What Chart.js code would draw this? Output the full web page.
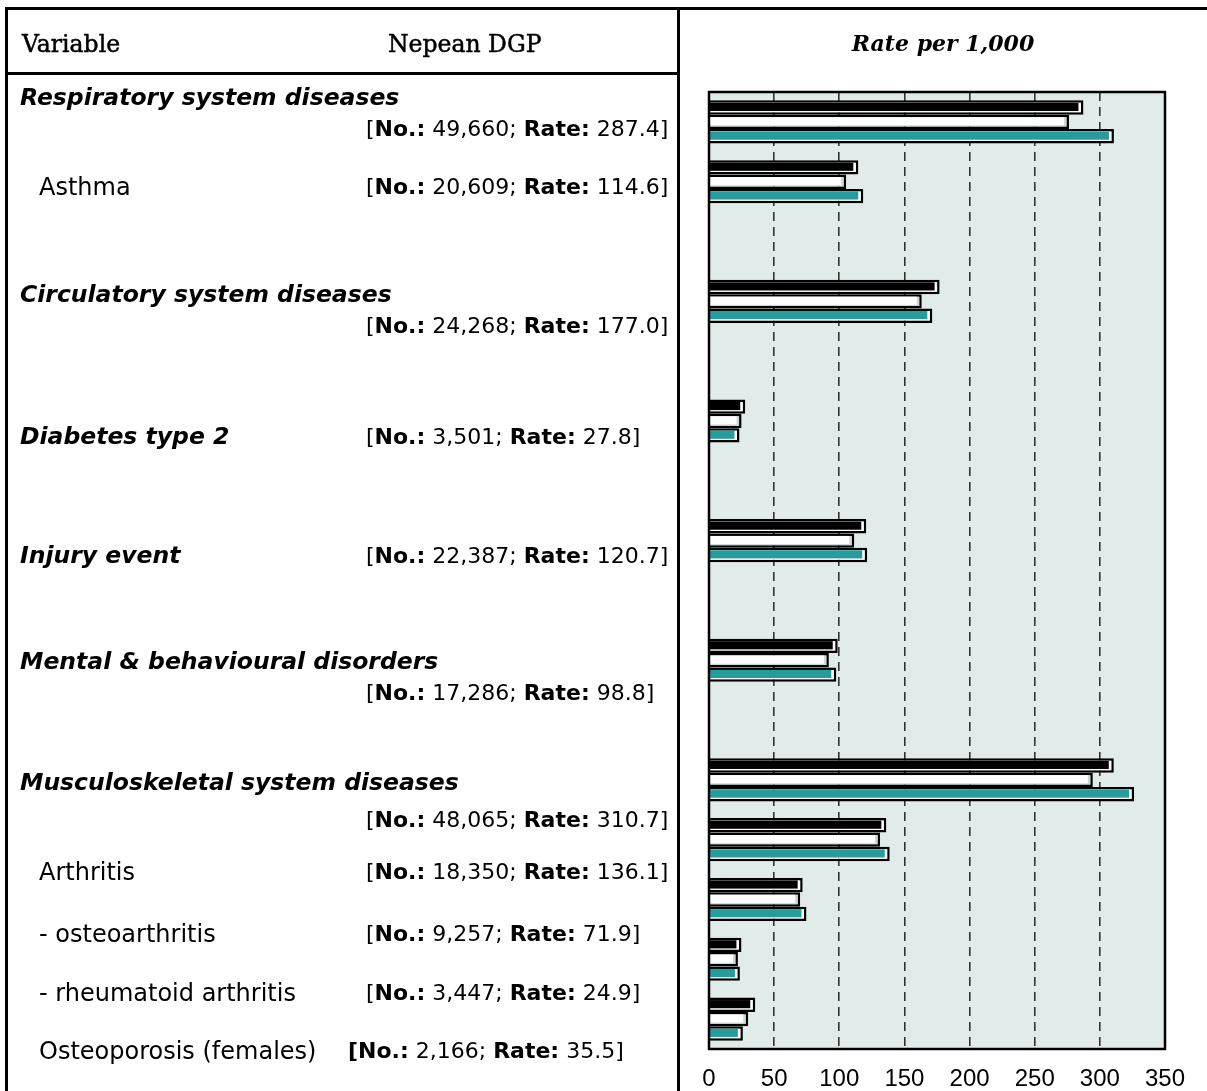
<!DOCTYPE html>
<html><head><meta charset="utf-8">
<script src="https://cdn.jsdelivr.net/npm/chart.js@4.4.1/dist/chart.umd.min.js"></script>
<style>
html,body{margin:0;padding:0;background:#fff;}
#wrap{position:relative;width:1207px;height:1091px;overflow:hidden;background:#fff;}
#c{position:absolute;left:0;top:0;}
.ln{position:absolute;background:#000;}
.t{position:absolute;white-space:nowrap;line-height:1;color:#000;}
.cat{font-family:'DejaVu Sans';font-style:italic;font-weight:bold;font-size:23.5px;}
.sub{font-family:'DejaVu Sans';font-size:24px;}
.br{font-family:'DejaVu Sans';font-size:22px;}
.hd{font-family:'DejaVu Serif';font-size:23.5px;-webkit-text-stroke:0.5px #000;}
.hdi{font-family:'DejaVu Serif';font-style:italic;font-weight:bold;font-size:22px;}
</style></head>
<body><div id="wrap"><canvas id="c" width="1207" height="1110"></canvas></div>
<script>
// ---- data ----
const categories = ['Respiratory system diseases','Asthma','','Circulatory system diseases','','Diabetes type 2','','Injury event','','Mental & behavioural disorders','','Musculoskeletal system diseases','Arthritis','- osteoarthritis','- rheumatoid arthritis','Osteoporosis (females)'];
const seriesNepean = [287.4,114.6,null,177.0,null,27.8,null,120.7,null,98.8,null,310.7,136.1,71.9,24.9,35.5];
const seriesWhite  = [276.3,105.3,null,163.3,null,25.0,null,111.5,null,92.0,null,294.6,131.3,70.0,22.2,30.1];
const seriesTeal   = [310.8,118.4,null,171.4,null,23.4,null,121.4,null,97.7,null,326.3,138.7,74.8,23.7,26.0];
const xTicks = [0,50,100,150,200,250,300,350];

const rowLabels = ['Respiratory system diseases','Asthma','Circulatory system diseases','Diabetes type 2','Injury event','Mental & behavioural disorders','Musculoskeletal system diseases','Arthritis','- osteoarthritis','- rheumatoid arthritis','Osteoporosis (females)'];
const rowNo = ['49,660','20,609','24,268','3,501','22,387','17,286','48,065','18,350','9,257','3,447','2,166'];
const rowRate = ['287.4','114.6','177.0','27.8','120.7','98.8','310.7','136.1','71.9','24.9','35.5'];
const rowIsGroup = [true,false,true,true,true,true,true,false,false,false,false];

// ---- layout (positions only) ----
const rowLabelY   = [98,187,295,437,556,662,783,872,934,993,1051];
const rowBracketY = [129,187,326,437,556,693,820,872,934,993,1051];
const rowBracketX = [366,366,366,366,366,366,366,366,366,366,348];
const rowBoldBracket = [false,false,false,false,false,false,false,false,false,false,true];

const wrap = document.getElementById('wrap');
function addDiv(cls, html, left, cy, size){
  const d = document.createElement('div');
  d.className = 't ' + cls;
  d.innerHTML = html;
  d.style.left = left + 'px';
  d.style.top = (cy - size/2) + 'px';
  wrap.appendChild(d);
  return d;
}
function addLine(l,t,w,h){
  const d = document.createElement('div'); d.className='ln';
  Object.assign(d.style,{left:l+'px',top:t+'px',width:w+'px',height:h+'px'});
  wrap.appendChild(d);
}
addLine(5,7,1202,3);
addLine(5,7,3,1084);
addLine(677,7,3,1084);
addLine(5,72,675,2.5);

addDiv('hd','Variable',22,45,23.5);
addDiv('hd','Nepean DGP',388,45,23.5);
const rt = addDiv('hdi','Rate per 1,000',943,43,22);
rt.style.transform = 'translateX(-50%)';

const esc = s => s.replace(/&/g,'&amp;');
rowLabels.forEach((lab,i)=>{
  if (rowIsGroup[i]) addDiv('cat', esc(lab), 20, rowLabelY[i], 23.5);
  else addDiv('sub', esc(lab), 39, rowLabelY[i], 24);
  const open = rowBoldBracket[i] ? '<b>[No.:</b>' : '[<b>No.:</b>';
  addDiv('br', open + ' ' + rowNo[i] + '; <b>Rate:</b> ' + rowRate[i] + ']', rowBracketX[i], rowBracketY[i], 22);
});

// ---- chart ----
const bgPlugin = {id:'bgFill', beforeDraw(chart){
  const a = chart.chartArea, ctx = chart.ctx;
  ctx.save(); ctx.fillStyle = '#e1ecea'; ctx.fillRect(a.left, a.top, a.right-a.left, a.bottom-a.top); ctx.restore();
}};
const shadePlugin = {id:'shade', afterDatasetsDraw(chart){
  const ctx = chart.ctx;
  chart.data.datasets.forEach((ds,i)=>{
    const meta = chart.getDatasetMeta(i);
    meta.data.forEach((el,j)=>{
      if (ds.data[j] == null) return;
      const p = el.getProps(['x','y','base','height'], true);
      const l = Math.min(p.x,p.base), r = Math.max(p.x,p.base);
      const t = p.y - p.height/2, b = p.y + p.height/2;
      const bw = ds.borderWidth;
      ctx.save(); ctx.fillStyle = ds.fillColor;
      ctx.fillRect(l, t+bw, Math.max(0, r-l-bw-2.5), b-t-2*bw-1.2);
      ctx.restore();
    });
  });
}};
const framePlugin = {id:'frame', afterDraw(chart){
  const a = chart.chartArea, ctx = chart.ctx;
  ctx.save(); ctx.strokeStyle = '#000'; ctx.lineWidth = 2.5;
  ctx.strokeRect(a.left, a.top, a.right-a.left, a.bottom-a.top); ctx.restore();
}};

new Chart(document.getElementById('c'), {
  type:'bar',
  data:{labels:categories, datasets:[
    {label:'Nepean DGP', data:seriesNepean, backgroundColor:'#ffffff', fillColor:'#000000', borderColor:'#000', borderWidth:2.5},
    {label:'Comparison 1', data:seriesWhite, backgroundColor:'#cfd8d6', fillColor:'#ffffff', borderColor:'#000', borderWidth:2.5},
    {label:'Comparison 2', data:seriesTeal, backgroundColor:'#ffffff', fillColor:'#279c9c', borderColor:'#000', borderWidth:2.5}
  ]},
  options:{
    indexAxis:'y', responsive:false, animation:false, devicePixelRatio:1,
    layout:{padding:{left:709, top:92, right:42, bottom:1}},
    plugins:{legend:{display:false}, tooltip:{enabled:false}},
    datasets:{bar:{categoryPercentage:0.72, barPercentage:1.0}},
    scales:{
      y:{display:false, offset:true},
      x:{min:0, max:350, position:'bottom',
         afterBuildTicks: axis => { axis.ticks = xTicks.map(v => ({value:v})); },
         grid:{color:'#333333', lineWidth:1.6, drawTicks:false},
         border:{display:false, dash:[9,6]},
         ticks:{font:{family:"'Liberation Sans'", size:24, lineHeight:1}, color:'#000', padding:18, maxRotation:0, autoSkip:false}
      }
    }
  },
  plugins:[bgPlugin, shadePlugin, framePlugin]
});
</script>
</body></html>
